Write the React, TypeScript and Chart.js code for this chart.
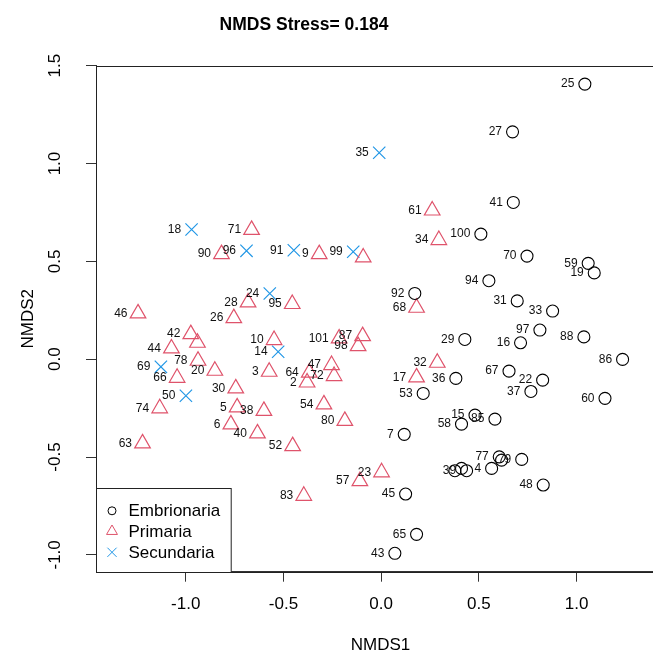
import React, { useEffect, useRef } from 'react';
import Chart from 'chart.js/auto';

const TITLE = 'NMDS Stress= 0.184';
const X_TITLE = 'NMDS1';
const Y_TITLE = 'NMDS2';
const seriesNames = ['Embrionaria', 'Primaria', 'Secundaria'];
const xTicks = [-1.0, -0.5, 0.0, 0.5, 1.0];
const yTicks = [-1.0, -0.5, 0.0, 0.5, 1.0, 1.5];
const X_MIN = -1.459;
const X_MAX = 1.452;
const Y_MIN = -1.086;
const Y_MAX = 1.5;

// Embrionaria (circles)
const embLabels = ['25', '27', '41', '100', '70', '59', '19', '94', '31', '33', '97', '88', '16', '86', '67', '22', '37', '60', '92', '29', '36', '53', '58', '15', '85', '7', '45', '65', '43', '48', '', '', '39', '4', '77', '', '79'];
const embX = [1.042, 0.672, 0.676, 0.510, 0.746, 1.059, 1.090, 0.551, 0.696, 0.877, 0.812, 1.037, 0.713, 1.235, 0.654, 0.826, 0.766, 1.145, 0.172, 0.428, 0.382, 0.215, 0.411, 0.480, 0.582, 0.118, 0.125, 0.181, 0.070, 0.829, 0.377, 0.411, 0.437, 0.565, 0.604, 0.616, 0.719];
const embY = [1.406, 1.162, 0.801, 0.639, 0.527, 0.490, 0.441, 0.401, 0.298, 0.246, 0.149, 0.114, 0.084, -0.001, -0.061, -0.107, -0.165, -0.200, 0.336, 0.101, -0.098, -0.175, -0.332, -0.286, -0.306, -0.384, -0.689, -0.895, -0.992, -0.643, -0.570, -0.558, -0.570, -0.558, -0.499, -0.516, -0.512];

// Primaria (triangles)
const priLabels = ['61', '34', '71', '90', '9', '', '46', '28', '95', '26', '42', '', '44', '10', '78', '20', '3', '66', '30', '74', '5', '38', '6', '40', '63', '52', '68', '101', '87', '98', '47', '72', '64', '2', '32', '17', '54', '80', '23', '57', '83'];
const priX = [0.261, 0.295, -0.663, -0.817, -0.317, -0.092, -1.244, -0.681, -0.455, -0.754, -0.974, -0.940, -1.073, -0.548, -0.937, -0.851, -0.573, -1.044, -0.744, -1.133, -0.737, -0.600, -0.769, -0.633, -1.221, -0.453, 0.181, -0.215, -0.095, -0.118, -0.254, -0.241, -0.368, -0.379, 0.287, 0.181, -0.293, -0.186, 0.002, -0.109, -0.396];
const priY = [0.760, 0.609, 0.661, 0.537, 0.537, 0.520, 0.234, 0.290, 0.282, 0.210, 0.128, 0.084, 0.055, 0.098, -0.008, -0.059, -0.064, -0.095, -0.149, -0.251, -0.246, -0.264, -0.333, -0.379, -0.430, -0.444, 0.263, 0.106, 0.118, 0.067, -0.030, -0.086, -0.069, -0.119, -0.018, -0.093, -0.231, -0.315, -0.578, -0.623, -0.698];

// Secundaria (crosses)
const secLabels = ['18', '96', '91', '99', '35', '24', '14', '69', '50'];
const secX = [-0.970, -0.689, -0.447, -0.143, -0.010, -0.570, -0.527, -1.127, -0.999];
const secY = [0.663, 0.554, 0.557, 0.549, 1.055, 0.336, 0.038, -0.039, -0.187];

const COLORS = ['#000000', '#DF536B', '#2297E6'];
const FONT = "'Liberation Sans', Arial, Helvetica, sans-serif";
const allLabels = [embLabels, priLabels, secLabels];

const boxPlugin = {
  id: 'boxPlugin',
  afterDraw(chart: any) {
    const { ctx, chartArea: a } = chart;
    ctx.save();
    ctx.strokeStyle = '#222';
    ctx.lineWidth = 1;
    ctx.strokeRect(Math.round(a.left) + 0.5, Math.round(a.top) + 0.5, a.right - a.left, a.bottom - a.top);
    ctx.restore();
  },
};

const labelPlugin = {
  id: 'labelPlugin',
  afterDatasetsDraw(chart: any) {
    const ctx = chart.ctx;
    ctx.save();
    ctx.font = `12px ${FONT}`;
    ctx.fillStyle = '#111';
    ctx.textAlign = 'right';
    ctx.textBaseline = 'middle';
    chart.data.datasets.forEach((_: any, i: number) => {
      const meta = chart.getDatasetMeta(i);
      meta.data.forEach((el: any, j: number) => {
        const t = allLabels[i][j];
        if (t) ctx.fillText(t, el.x - 10.5, el.y);
      });
    });
    ctx.restore();
  },
};

function drawSym(ctx: CanvasRenderingContext2D, kind: number, x: number, y: number) {
  ctx.beginPath();
  if (kind === 0) {
    ctx.arc(x, y, 4, 0, Math.PI * 2);
  } else if (kind === 1) {
    const r = 6.3;
    for (let k = 0; k < 3; k++) {
      const ang = (k * 2 * Math.PI) / 3;
      const px = x + Math.sin(ang) * r;
      const py = y - Math.cos(ang) * r;
      if (k === 0) ctx.moveTo(px, py);
      else ctx.lineTo(px, py);
    }
    ctx.closePath();
  } else {
    const d = 4.6;
    ctx.moveTo(x - d, y - d);
    ctx.lineTo(x + d, y + d);
    ctx.moveTo(x + d, y - d);
    ctx.lineTo(x - d, y + d);
  }
  ctx.stroke();
}

const legendPlugin = {
  id: 'legendPlugin',
  afterDraw(chart: any) {
    const { ctx, chartArea: a } = chart;
    const left = Math.round(a.left) + 0.5;
    const bottom = Math.round(a.bottom) + 0.5;
    const top = bottom - 84;
    const w = 134.7;
    ctx.save();
    ctx.fillStyle = '#fff';
    ctx.fillRect(left, top, w, bottom - top);
    ctx.strokeStyle = '#222';
    ctx.lineWidth = 1;
    ctx.strokeRect(left, top, w, bottom - top);
    const rows = [bottom - 61.7, bottom - 41.2, bottom - 20.2];
    ctx.font = `17px ${FONT}`;
    ctx.textAlign = 'left';
    ctx.textBaseline = 'middle';
    seriesNames.forEach((name, i) => {
      ctx.strokeStyle = COLORS[i];
      ctx.lineWidth = 1;
      drawSym(ctx, i, left + 15.5, rows[i]);
      ctx.fillStyle = '#000';
      ctx.fillText(name, left + 32, rows[i] + 1);
    });
    ctx.restore();
  },
};

const titlePlugin = {
  id: 'titlePlugin',
  afterDraw(chart: any) {
    const ctx = chart.ctx;
    ctx.save();
    ctx.font = `bold 17.5px ${FONT}`;
    ctx.fillStyle = '#000';
    ctx.textAlign = 'center';
    ctx.textBaseline = 'alphabetic';
    ctx.fillText(TITLE, 304, 30);
    ctx.restore();
  },
};

export default function App() {
  const ref = useRef<HTMLCanvasElement>(null);
  useEffect(() => {
    const canvas = ref.current;
    if (!canvas) return;
    const mk = (xs: number[], ys: number[]) => xs.map((x, i) => ({ x, y: ys[i] }));
    const tickFont = { family: FONT, size: 17, lineHeight: 1.2 };
    const chart = new Chart(canvas, {
      type: 'scatter',
      data: {
        datasets: [
          {
            label: seriesNames[0],
            data: mk(embX, embY),
            pointStyle: 'circle',
            pointRadius: 6,
            borderColor: COLORS[0],
            backgroundColor: 'rgba(0,0,0,0)',
            borderWidth: 1.1,
          },
          {
            label: seriesNames[1],
            data: mk(priX, priY),
            pointStyle: 'triangle',
            pointRadius: 9,
            borderColor: COLORS[1],
            backgroundColor: 'rgba(0,0,0,0)',
            borderWidth: 1.2,
          },
          {
            label: seriesNames[2],
            data: mk(secX, secY),
            pointStyle: 'crossRot',
            pointRadius: 8.7,
            borderColor: COLORS[2],
            backgroundColor: 'rgba(0,0,0,0)',
            borderWidth: 1.2,
          },
        ],
      },
      options: {
        responsive: false,
        animation: false,
        devicePixelRatio: 1,
        layout: { padding: { left: 0, right: 35, top: 65.7, bottom: 0 } },
        plugins: {
          legend: { display: false },
          tooltip: { enabled: false },
          title: { display: false },
        },
        scales: {
          x: {
            type: 'linear',
            position: 'bottom',
            min: X_MIN,
            max: X_MAX,
            afterBuildTicks: (s: any) => {
              s.ticks = xTicks.map((v) => ({ value: v }));
            },
            afterFit: (s: any) => {
              s.height = 82.3;
            },
            grid: { drawOnChartArea: false, drawTicks: true, tickLength: 10, color: '#333', lineWidth: 1 },
            border: { display: true, color: '#333', width: 1 },
            ticks: {
              font: tickFont,
              color: '#000',
              padding: 12,
              autoSkip: false,
              maxRotation: 0,
              minRotation: 0,
              callback: (v: any) => Number(v).toFixed(1),
            },
            title: {
              display: true,
              text: X_TITLE,
              color: '#000',
              font: { family: FONT, size: 17, lineHeight: 1.0 },
              padding: { top: 0, bottom: 0 },
            },
          },
          y: {
            type: 'linear',
            position: 'left',
            min: Y_MIN,
            max: Y_MAX,
            afterBuildTicks: (s: any) => {
              s.ticks = yTicks.map((v) => ({ value: v }));
            },
            afterFit: (s: any) => {
              s.width = 96;
            },
            grid: { drawOnChartArea: false, drawTicks: true, tickLength: 10, color: '#333', lineWidth: 1 },
            border: { display: true, color: '#333', width: 1 },
            ticks: {
              font: tickFont,
              color: '#000',
              padding: 16,
              autoSkip: false,
              minRotation: 90,
              maxRotation: 90,
              crossAlign: 'center',
              callback: (v: any) => Number(v).toFixed(1),
            },
            title: {
              display: true,
              text: Y_TITLE,
              color: '#000',
              font: { family: FONT, size: 17, lineHeight: 1.0 },
              padding: { top: 19.5, bottom: 0 },
            },
          },
        },
      },
      plugins: [boxPlugin, labelPlugin, legendPlugin, titlePlugin],
    } as any);
    return () => chart.destroy();
  }, []);
  return (
    <div
      style={{
        position: 'fixed',
        left: 0,
        top: 0,
        width: 653,
        height: 654,
        overflow: 'hidden',
        background: '#fff',
      }}
    >
      <canvas ref={ref} width={700} height={654} style={{ display: 'block', width: 700, height: 654 }} />
    </div>
  );
}
